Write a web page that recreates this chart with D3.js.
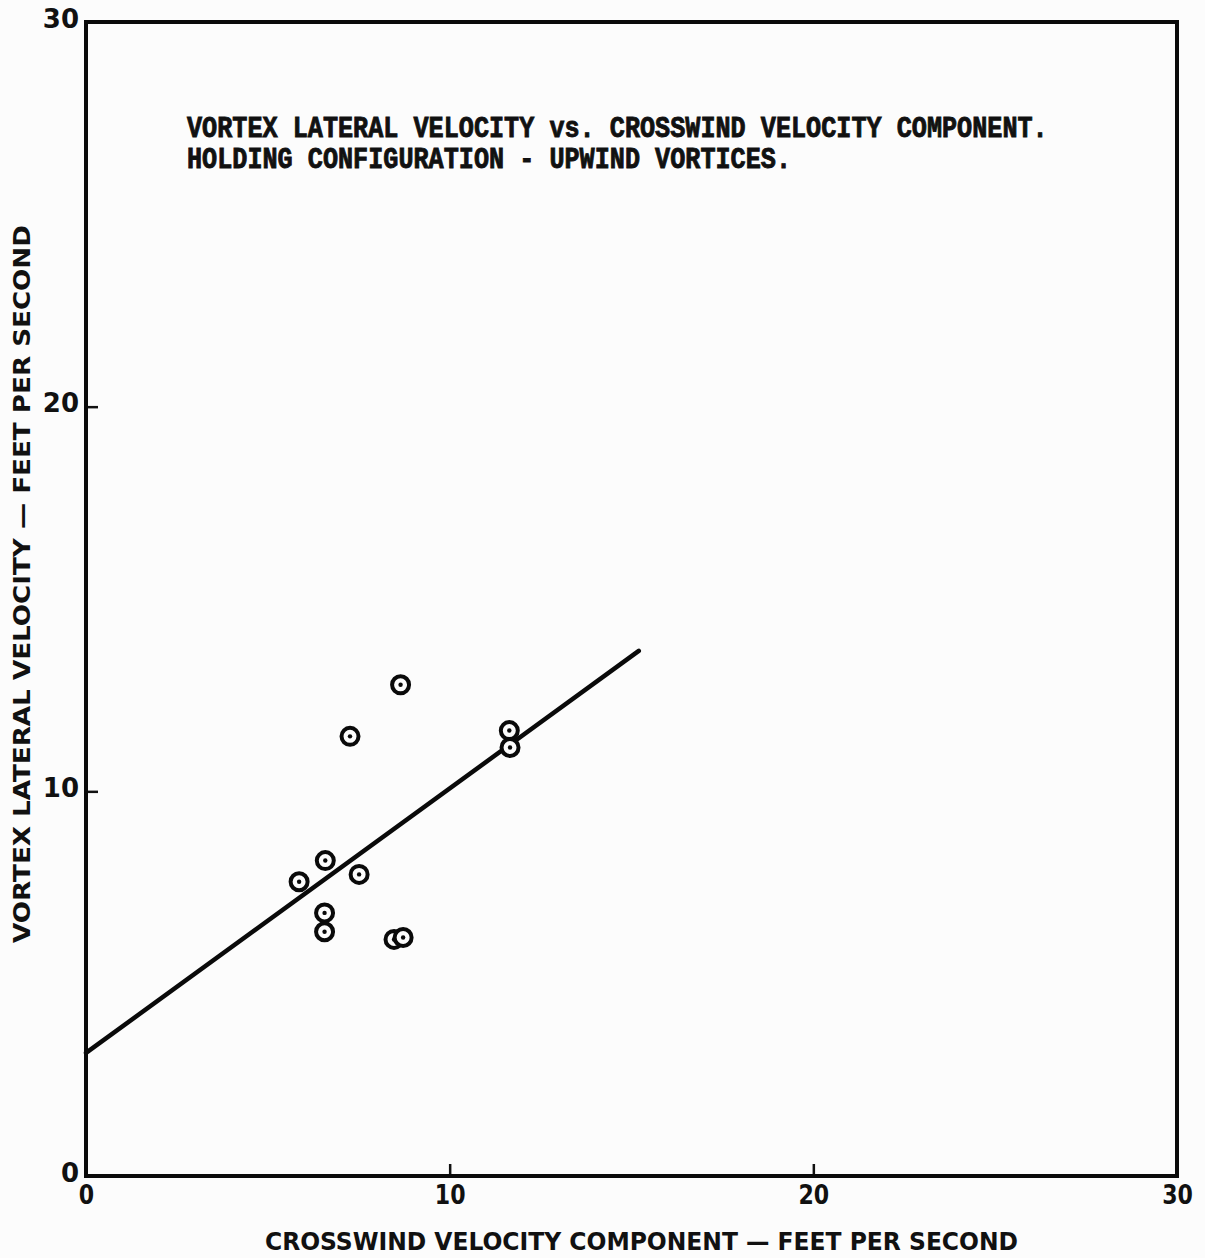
<!DOCTYPE html>
<html>
<head>
<meta charset="utf-8">
<script src="https://cdn.jsdelivr.net/npm/d3@7"></script>
<style>
  body { margin: 0; background: #fcfcfc; }
  svg { display: block; }
</style>
</head>
<body>
<div id="chart"></div>
<script>
// 数据
const crosswind = [8.65, 7.26, 11.64, 11.66, 6.58, 5.86, 7.51, 6.56, 6.56, 8.47, 8.72];
const lateralVel = [12.77, 11.43, 11.58, 11.14, 8.20, 7.65, 7.84, 6.84, 6.35, 6.15, 6.20];
const fitX = [0, 15.2];
const fitY = [3.2, 13.65];
const tickVals = [0, 10, 20, 30];
const titleLines = [
  'VORTEX LATERAL VELOCITY vs. CROSSWIND VELOCITY COMPONENT.',
  'HOLDING CONFIGURATION - UPWIND VORTICES.'
];
const xLabel = 'CROSSWIND VELOCITY COMPONENT \u2014 FEET PER SECOND';
const yLabel = 'VORTEX LATERAL VELOCITY \u2014 FEET PER SECOND';

const width = 1205;
const height = 1258;
const plotL = 86, plotR = 1177, plotT = 22, plotB = 1176;

const svg = d3.select('#chart').append('svg')
  .attr('width', width)
  .attr('height', height);

svg.append('rect')
  .attr('width', width).attr('height', height)
  .attr('fill', '#fcfcfc');

const x = d3.scaleLinear().domain([0, 30]).range([plotL, plotR]);
const y = d3.scaleLinear().domain([0, 30]).range([plotB, plotT]);

// 坐标轴
const xAxis = svg.append('g')
  .attr('transform', `translate(0,${plotB})`)
  .call(d3.axisBottom(x).tickValues(tickVals).tickSize(-12).tickPadding(10).tickFormat(d3.format('d')));
const yAxis = svg.append('g')
  .attr('transform', `translate(${plotL},0)`)
  .call(d3.axisLeft(y).tickValues(tickVals).tickSize(-12).tickPadding(7).tickFormat(d3.format('d')));

[xAxis, yAxis].forEach(a => {
  a.select('.domain').remove();
  a.selectAll('line').attr('stroke', '#111').attr('stroke-width', 2.5);
  a.selectAll('text')
    .attr('fill', '#111')
    .style('font-family', '"DejaVu Sans", sans-serif')
    .style('font-weight', 'bold')
    .style('font-size', '26px');
});
xAxis.selectAll('text').attr('transform', 'scale(0.85,1)');
yAxis.selectAll('text').attr('dy', '0.2em');

// 外框
svg.append('rect')
  .attr('x', plotL).attr('y', plotT)
  .attr('width', plotR - plotL).attr('height', plotB - plotT)
  .attr('fill', 'none')
  .attr('stroke', '#0a0a0a')
  .attr('stroke-width', 4);

// 拟合直线
const line = d3.line().x(d => x(d[0])).y(d => y(d[1]));
svg.append('path')
  .datum(d3.zip(fitX, fitY))
  .attr('d', line)
  .attr('fill', 'none')
  .attr('stroke', '#0a0a0a')
  .attr('stroke-width', 4.5)
  .attr('stroke-linecap', 'round');

// 数据点
const pts = svg.append('g').selectAll('g')
  .data(d3.zip(crosswind, lateralVel))
  .enter()
  .append('g')
  .attr('transform', d => `translate(${x(d[0])},${y(d[1])})`);
pts.append('circle')
  .attr('r', 8.5)
  .attr('fill', '#fcfcfc')
  .attr('stroke', '#0a0a0a')
  .attr('stroke-width', 4);
pts.append('circle')
  .attr('r', 2.2)
  .attr('fill', '#0a0a0a');

// 标题
const title = svg.append('g')
  .style('font-family', '"Liberation Mono", monospace')
  .style('font-weight', 'bold')
  .style('font-size', '20px')
  .attr('fill', '#111')
  .attr('stroke', '#111')
  .attr('stroke-width', 0.6);
titleLines.forEach((t, i) => {
  const by = 137 + i * 31;
  title.append('text')
    .attr('x', 187)
    .attr('y', by)
    .attr('textLength', t.length * 15.1)
    .attr('lengthAdjust', 'spacingAndGlyphs')
    .attr('transform', `translate(0,${by}) scale(1,1.5) translate(0,${-by})`)
    .text(t);
});

// 轴标题
svg.append('text')
  .attr('x', 265)
  .attr('y', 1250)
  .attr('textLength', 753)
  .attr('lengthAdjust', 'spacingAndGlyphs')
  .attr('transform', 'translate(0,1250) scale(1,1.15) translate(0,-1250)')
  .style('font-family', '"DejaVu Sans Condensed", "DejaVu Sans", sans-serif')
  .style('font-weight', 'bold')
  .style('font-size', '22px')
  .attr('fill', '#111')
  .text(xLabel);

svg.append('text')
  .attr('transform', 'translate(30,943) rotate(-90) scale(1,1.1)')
  .attr('x', 0)
  .attr('y', 0)
  .attr('textLength', 718)
  .attr('lengthAdjust', 'spacingAndGlyphs')
  .style('font-family', '"DejaVu Sans", sans-serif')
  .style('font-weight', 'bold')
  .style('font-size', '21px')
  .attr('fill', '#111')
  .text(yLabel);
</script>
</body>
</html>
